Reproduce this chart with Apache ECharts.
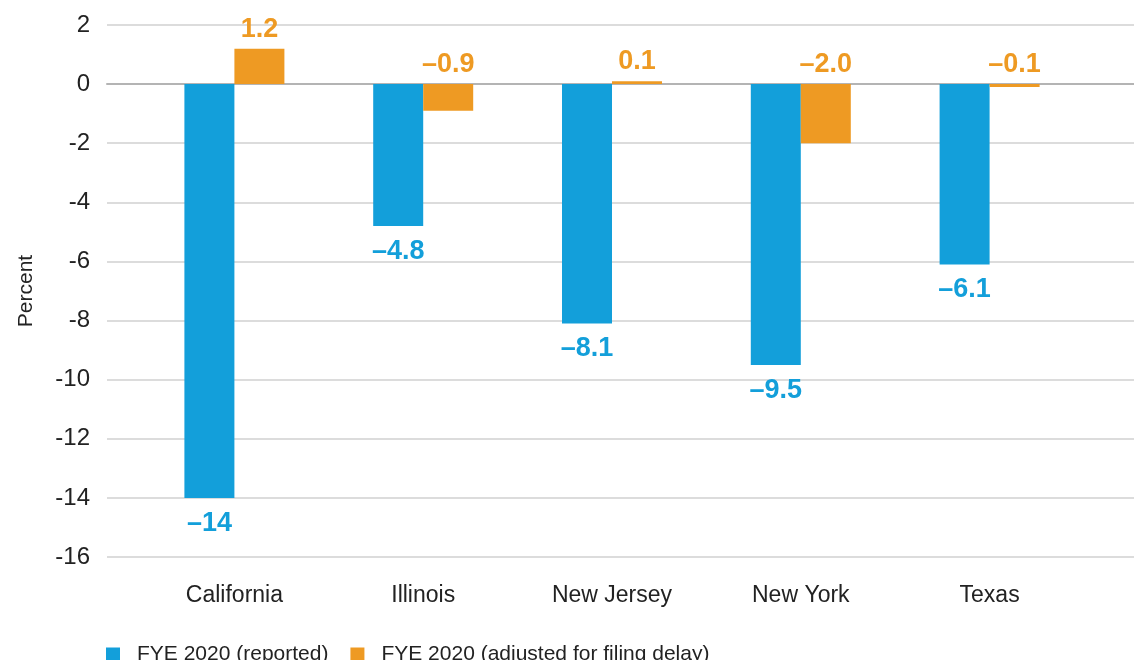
<!DOCTYPE html>
<html><head><meta charset="utf-8">
<script src="https://cdn.jsdelivr.net/npm/echarts@6/dist/echarts.min.js"></script>
<style>html,body{margin:0;padding:0;background:#fff}#c{width:1134px;height:660px}</style>
</head><body><div id="c"></div>
<script>
const categories = ['California', 'Illinois', 'New Jersey', 'New York', 'Texas'];
const reported = [-14, -4.8, -8.1, -9.5, -6.1];
const adjusted = [1.2, -0.9, 0.1, -2.0, -0.1];
const reportedLabels = ['\u201314', '\u20134.8', '\u20138.1', '\u20139.5', '\u20136.1'];
const adjustedLabels = ['1.2', '\u20130.9', '0.1', '\u20132.0', '\u20130.1'];
const seriesNames = ['FYE 2020 (reported)', 'FYE 2020 (adjusted for filing delay)'];
const yMin = -16, yMax = 2, yStep = 2;

const FONT = "'Liberation Sans Narrow', 'Liberation Sans', sans-serif";
const BLUE = '#139fda', ORANGE = '#ee9a23';
const chart = echarts.init(document.getElementById('c'));
const gTop = 25, gBottom = 103;
chart.setOption({
  animation: false,
  textStyle: { fontFamily: FONT },
  grid: [
    { left: 107, right: 0, top: gTop, bottom: gBottom, containLabel: false },
    { left: 140, right: 50, top: gTop, bottom: gBottom, containLabel: false }
  ],
  xAxis: [
    { type: 'category', gridIndex: 0, data: [''],
      axisLine: { show: true, onZero: true, lineStyle: { color: '#b4b4b4', width: 2 } },
      axisTick: { show: false }, axisLabel: { show: false }, splitLine: { show: false } },
    { type: 'category', gridIndex: 1, data: categories,
      axisLine: { show: false, onZero: false }, axisTick: { show: false },
      axisLabel: { margin: 27, fontSize: 23, color: '#222', fontFamily: FONT } }
  ],
  yAxis: [
    { type: 'value', gridIndex: 0, min: yMin, max: yMax, interval: yStep,
      name: 'Percent', nameLocation: 'middle', nameGap: 70, nameRotate: 90,
      nameTextStyle: { fontSize: 21, color: '#222', fontFamily: FONT },
      axisLine: { show: false }, axisTick: { show: false },
      axisLabel: { margin: 17, fontSize: 24, color: '#222', fontFamily: FONT },
      splitLine: { lineStyle: { color: '#dcdcdc', width: 2 } } },
    { type: 'value', gridIndex: 1, min: yMin, max: yMax, interval: yStep, show: false,
      splitLine: { show: false } }
  ],
  legend: {
    left: 101, top: 639, itemWidth: 14, itemHeight: 14, itemGap: 22,
    icon: 'rect', data: seriesNames,
    textStyle: { fontSize: 21, color: '#222', fontFamily: FONT, padding: [0, 0, 0, 12] }
  },
  series: [
    { name: seriesNames[0], type: 'bar', xAxisIndex: 1, yAxisIndex: 1, data: reported,
      barWidth: 50, barGap: '0%', itemStyle: { color: BLUE },
      label: { show: true, position: 'bottom', distance: 12, color: BLUE, fontSize: 27, fontWeight: 'bold',
        fontFamily: FONT, formatter: p => reportedLabels[p.dataIndex] } },
    { name: seriesNames[1], type: 'bar', xAxisIndex: 1, yAxisIndex: 1, data: adjusted,
      barWidth: 50, barGap: '0%', itemStyle: { color: ORANGE },
      label: { show: true, position: 'top', distance: 6, color: ORANGE, fontSize: 27, fontWeight: 'bold',
        fontFamily: FONT, formatter: p => adjustedLabels[p.dataIndex] } }
  ]
});
</script></body></html>
